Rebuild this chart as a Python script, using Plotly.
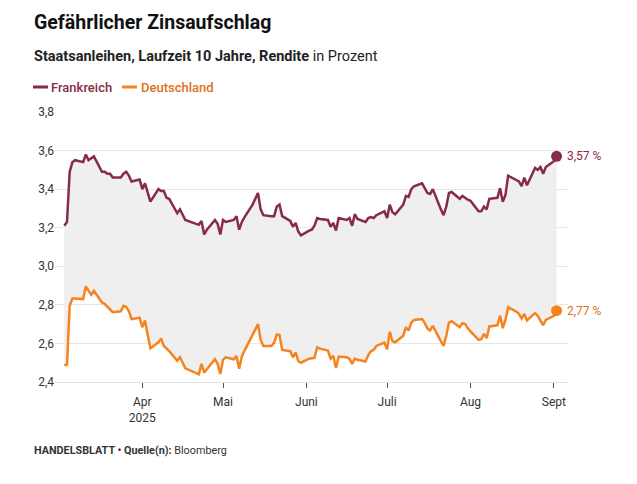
import pandas as pd
import plotly.graph_objects as go

# ---- data ----
holidays = ["2025-04-18", "2025-04-21"]
dates = [d for d in pd.bdate_range("2025-03-03", "2025-09-02") if d.strftime("%Y-%m-%d") not in holidays]

frankreich = [
    # März
    3.21, 3.23, 3.49, 3.54, 3.55, 3.54, 3.58, 3.55, 3.56, 3.57,
    3.49, 3.49, 3.48, 3.48, 3.46, 3.46, 3.48, 3.49, 3.47, 3.44, 3.45,
    # April
    3.40, 3.43, 3.38, 3.335, 3.40, 3.39, 3.39, 3.355, 3.35,
    3.275, 3.295, 3.265, 3.24, 3.215, 3.235, 3.165, 3.19, 3.24, 3.22, 3.165,
    # Mai
    3.24, 3.23, 3.24, 3.26, 3.19, 3.23, 3.255, 3.32, 3.35, 3.38, 3.295, 3.265,
    3.26, 3.26, 3.31, 3.32, 3.26, 3.235, 3.205, 3.225, 3.18, 3.16,
    # Juni
    3.185, 3.19, 3.21, 3.25, 3.245, 3.24, 3.205, 3.225, 3.185, 3.25,
    3.24, 3.25, 3.21, 3.27, 3.245, 3.23, 3.25, 3.255, 3.25, 3.265, 3.285,
    # Juli
    3.25, 3.32, 3.28, 3.27, 3.32, 3.365, 3.36, 3.40, 3.415, 3.43, 3.405, 3.38,
    3.375, 3.40, 3.295, 3.265, 3.31, 3.38, 3.385, 3.35, 3.365, 3.355, 3.345,
    # August
    3.34, 3.285, 3.285, 3.31, 3.295, 3.35, 3.355, 3.405, 3.335, 3.37, 3.47,
    3.45, 3.44, 3.415, 3.46, 3.42, 3.51, 3.50, 3.515, 3.48, 3.515,
    # September
    3.545, 3.57,
]

deutschland = [
    # März
    2.487, 2.49, 2.795, 2.833, 2.833, 2.83, 2.895, 2.87, 2.852, 2.873,
    2.812, 2.805, 2.79, 2.774, 2.762, 2.767, 2.795, 2.79, 2.767, 2.726, 2.733,
    # April
    2.684, 2.719, 2.644, 2.575, 2.606, 2.625, 2.587, 2.575, 2.56,
    2.51, 2.528, 2.50, 2.471, 2.44, 2.494, 2.449, 2.466, 2.518, 2.494, 2.442,
    # Mai
    2.515, 2.528, 2.518, 2.535, 2.469, 2.532, 2.563, 2.65, 2.674, 2.70, 2.618, 2.587,
    2.587, 2.604, 2.646, 2.643, 2.566, 2.56, 2.528, 2.553, 2.508, 2.50,
    # Juni
    2.521, 2.523, 2.525, 2.58, 2.573, 2.563, 2.521, 2.535, 2.473, 2.532,
    2.528, 2.521, 2.494, 2.521, 2.515, 2.506, 2.54, 2.56, 2.566, 2.587, 2.604,
    # Juli
    2.57, 2.66, 2.611, 2.606, 2.64, 2.684, 2.667, 2.708, 2.722, 2.726, 2.705, 2.677,
    2.667, 2.691, 2.611, 2.587, 2.64, 2.708, 2.715, 2.684, 2.705, 2.701, 2.679,
    # August
    2.662, 2.618, 2.622, 2.65, 2.627, 2.688, 2.694, 2.743, 2.679, 2.722, 2.788,
    2.765, 2.753, 2.729, 2.753, 2.719, 2.757, 2.743, 2.722, 2.694, 2.722,
    # September
    2.743, 2.77,
]

tick_dates = ["2025-04-01", "2025-05-01", "2025-06-01", "2025-07-01", "2025-08-01", "2025-09-01"]
tick_labels = ["Apr<br>2025", "Mai", "Juni", "Juli", "Aug", "Sept"]
y_ticks = [2.4, 2.6, 2.8, 3.0, 3.2, 3.4, 3.6, 3.8]

assert len(dates) == len(frankreich) == len(deutschland), (len(dates), len(frankreich), len(deutschland))

# ---- style ----
C_FR = "#872b46"
C_DE = "#f5841f"
C_DE_TXT = "#e0701a"
FONT = "Roboto, 'Noto Sans', sans-serif"
TITLE_FONT = "Roboto, 'Noto Sans', sans-serif"

OFF = 8  # page body margin
W, H = 621, 468
L, T = 47, 104
R = W - (568 - OFF)
B = H - (382 - OFF)
PW, PH = W - L - R, H - T - B

def px(x):  # page pixel -> paper
    return (x - OFF - L) / PW

def py(y):
    return (H - B - (y - OFF)) / PH

fig = go.Figure()
fig.add_trace(go.Scatter(x=dates, y=deutschland, mode="lines", line=dict(color=C_DE, width=2.5),
                         showlegend=False, hoverinfo="skip"))
fig.add_trace(go.Scatter(x=dates, y=frankreich, mode="lines", line=dict(color=C_FR, width=2.5),
                         fill="tonexty", fillcolor="#efefef", showlegend=False, hoverinfo="skip"))
# end dots
fig.add_trace(go.Scatter(x=[dates[-1]], y=[frankreich[-1]], mode="markers",
                         marker=dict(color=C_FR, size=11), showlegend=False, hoverinfo="skip"))
fig.add_trace(go.Scatter(x=[dates[-1]], y=[deutschland[-1]], mode="markers",
                         marker=dict(color=C_DE, size=11), showlegend=False, hoverinfo="skip"))

annotations = [
    dict(x=px(32), y=py(22), xref="paper", yref="paper", xanchor="left", yanchor="middle",
         text="<b>Gefährlicher Zinsaufschlag</b>", showarrow=False,
         font=dict(family=TITLE_FONT, size=19.5, color="#111111")),
    dict(x=px(32), y=py(57), xref="paper", yref="paper", xanchor="left", yanchor="middle",
         text="<b>Staatsanleihen, Laufzeit 10 Jahre, Rendite</b> in Prozent", showarrow=False,
         font=dict(family=FONT, size=14.5, color="#222222")),
    dict(x=px(49), y=py(87), xref="paper", yref="paper", xanchor="left", yanchor="middle",
         text="Frankreich", showarrow=False, font=dict(family=FONT, size=13, color=C_FR, weight=500)),
    dict(x=px(139), y=py(87), xref="paper", yref="paper", xanchor="left", yanchor="middle",
         text="Deutschland", showarrow=False, font=dict(family=FONT, size=13, color=C_DE_TXT, weight=500)),
    dict(x=px(32), y=py(450), xref="paper", yref="paper", xanchor="left", yanchor="middle",
         text="<b>HANDELSBLATT • Quelle(n):</b> Bloomberg", showarrow=False,
         font=dict(family=FONT, size=10.8, color="#333333")),
    dict(x=dates[-1], y=frankreich[-1], xref="x", yref="y", xanchor="left", yanchor="middle",
         xshift=8, text=f"{frankreich[-1]:.2f} %".replace(".", ","), showarrow=False,
         font=dict(family=FONT, size=12, color=C_FR)),
    dict(x=dates[-1], y=deutschland[-1], xref="x", yref="y", xanchor="left", yanchor="middle",
         xshift=8, text=f"{deutschland[-1]:.2f} %".replace(".", ","), showarrow=False,
         font=dict(family=FONT, size=12, color=C_DE_TXT)),
]

shapes = [
    dict(type="line", xref="paper", yref="paper", x0=px(33), x1=px(48), y0=py(87), y1=py(87),
         line=dict(color=C_FR, width=3)),
    dict(type="line", xref="paper", yref="paper", x0=px(122), x1=px(137), y0=py(87), y1=py(87),
         line=dict(color=C_DE, width=3)),
]

fig.update_layout(
    width=W, height=H,
    margin=dict(l=L, r=R, t=T, b=B, pad=0),
    paper_bgcolor="white", plot_bgcolor="white",
    separators=",.",
    font=dict(family=FONT, size=12, color="#333333"),
    annotations=annotations, shapes=shapes,
    xaxis=dict(type="date", range=["2025-02-27 13:00", "2025-09-06 06:00"],
               tickvals=tick_dates, ticktext=tick_labels,
               ticks="outside", ticklen=5, tickcolor="#555555", tickwidth=1,
               ticklabelstandoff=4,
               showgrid=False, showline=True, linecolor="#e3e3e3", linewidth=1,
               zeroline=False, tickfont=dict(size=12, color="#333333")),
    yaxis=dict(range=[2.4, 3.8], tickvals=y_ticks, tickformat=".1f",
               showgrid=True, gridcolor="#e6e6e6", gridwidth=1,
               zeroline=False, showline=False, ticks="",
               tickfont=dict(size=12, color="#333333")),
)

fig.write_html("out.html")
